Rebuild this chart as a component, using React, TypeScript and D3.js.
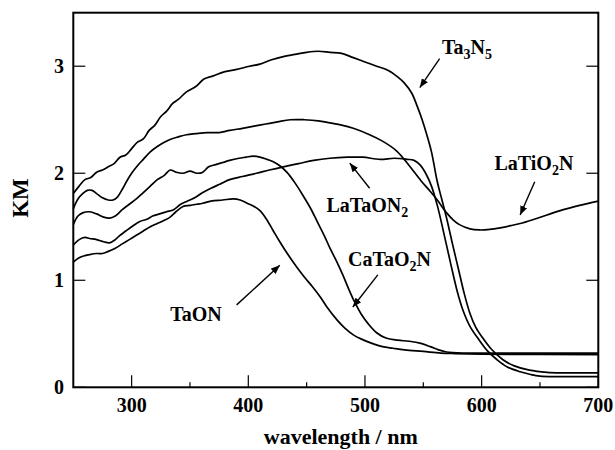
import React from 'react';
import * as d3 from 'd3';

// [wavelength nm, KM]
const ta3n5: [number, number][] = [
  [250, 1.81], [255, 1.88], [260, 1.94], [265, 1.96], [270, 2.01], [275, 2.03], [280, 2.06],
  [285, 2.09], [290, 2.15], [295, 2.17], [300, 2.23], [305, 2.29], [310, 2.32], [315, 2.4],
  [320, 2.45], [325, 2.53], [330, 2.58], [335, 2.65], [340, 2.69], [347, 2.76], [355, 2.81],
  [362, 2.88], [370, 2.91], [380, 2.95], [390, 2.97], [401, 3.0], [410, 3.02], [420, 3.06],
  [430, 3.09], [440, 3.11], [450, 3.13], [460, 3.14], [470, 3.13], [480, 3.12], [490, 3.08],
  [500, 3.04], [510, 3.0], [520, 2.96], [528, 2.9], [534, 2.84], [540, 2.75], [545, 2.62],
  [549, 2.5], [553, 2.36], [557, 2.2], [562, 1.92], [566, 1.75], [570, 1.58], [575, 1.34],
  [580, 1.11], [585, 0.88], [590, 0.69], [595, 0.56], [601, 0.46], [608, 0.36], [618, 0.26],
  [628, 0.2], [641, 0.16], [656, 0.14], [670, 0.135], [700, 0.135],
];

const laTiO2N: [number, number][] = [
  [250, 1.67], [254, 1.76], [258, 1.81], [262, 1.84], [266, 1.84], [270, 1.81], [275, 1.77],
  [280, 1.75], [284, 1.75], [288, 1.78], [292, 1.85], [296, 1.93], [300, 2.0], [305, 2.07],
  [310, 2.13], [316, 2.2], [322, 2.25], [328, 2.29], [334, 2.32], [340, 2.34], [347, 2.36],
  [355, 2.37], [365, 2.38], [375, 2.38], [384, 2.4], [395, 2.42], [405, 2.44], [415, 2.46],
  [425, 2.48], [436, 2.5], [448, 2.5], [460, 2.49], [470, 2.47], [480, 2.45], [490, 2.42],
  [504, 2.36], [515, 2.3], [527, 2.21], [538, 2.07], [548, 1.93], [556, 1.83], [562, 1.75],
  [570, 1.63], [576, 1.56], [581, 1.52], [590, 1.48], [598, 1.47], [607, 1.475], [616, 1.49],
  [625, 1.51], [633, 1.53], [645, 1.57], [656, 1.61], [670, 1.66], [684, 1.7], [700, 1.74],
];

const laTaON2: [number, number][] = [
  [250, 1.33], [255, 1.38], [260, 1.4], [264, 1.39], [270, 1.38], [276, 1.36], [281, 1.35],
  [286, 1.38], [290, 1.42], [295, 1.46], [300, 1.5], [307, 1.55], [313, 1.57], [318, 1.6],
  [324, 1.62], [330, 1.64], [336, 1.66], [342, 1.71], [348, 1.74], [354, 1.77], [361, 1.82],
  [368, 1.86], [376, 1.9], [384, 1.94], [395, 1.97], [407, 2.0], [418, 2.03], [430, 2.06],
  [443, 2.09], [456, 2.12], [470, 2.14], [485, 2.15], [498, 2.15], [513, 2.13], [525, 2.14],
  [536, 2.13], [542, 2.12], [547, 2.08], [552, 2.0], [557, 1.88], [562, 1.7], [568, 1.42],
  [574, 1.13], [579, 0.9], [584, 0.72], [590, 0.57], [598, 0.44], [605, 0.34], [613, 0.26],
  [622, 0.19], [633, 0.145], [642, 0.12], [650, 0.105], [665, 0.1], [700, 0.1],
];

const caTaO2N: [number, number][] = [
  [250, 1.52], [254, 1.6], [258, 1.63], [264, 1.64], [270, 1.62], [276, 1.59], [281, 1.58],
  [286, 1.6], [292, 1.66], [298, 1.71], [304, 1.76], [310, 1.82], [316, 1.88], [322, 1.94],
  [328, 1.98], [333, 2.03], [338, 2.01], [344, 2.0], [350, 2.02], [356, 2.0], [361, 2.01],
  [366, 2.06], [372, 2.08], [378, 2.1], [384, 2.12], [392, 2.14], [398, 2.15], [404, 2.16],
  [410, 2.15], [416, 2.13], [421, 2.11], [427, 2.07], [433, 2.01], [440, 1.91], [447, 1.79],
  [453, 1.68], [459, 1.55], [465, 1.42], [470, 1.3], [476, 1.17], [481, 1.05], [486, 0.92],
  [491, 0.8], [497, 0.68], [503, 0.59], [510, 0.51], [518, 0.46], [528, 0.44], [538, 0.43],
  [548, 0.41], [556, 0.38], [563, 0.35], [570, 0.33], [585, 0.32], [600, 0.32], [700, 0.32],
];

const taON: [number, number][] = [
  [250, 1.17], [255, 1.21], [260, 1.23], [264, 1.24], [270, 1.25], [275, 1.25], [280, 1.27],
  [286, 1.3], [292, 1.34], [298, 1.38], [304, 1.42], [310, 1.46], [316, 1.5], [322, 1.53],
  [328, 1.56], [333, 1.59], [338, 1.64], [344, 1.69], [350, 1.7], [356, 1.71], [361, 1.72],
  [368, 1.74], [378, 1.75], [387, 1.76], [393, 1.75], [399, 1.72], [405, 1.69], [410, 1.65],
  [415, 1.58], [421, 1.47], [427, 1.36], [434, 1.24], [441, 1.13], [448, 1.03], [455, 0.94],
  [462, 0.84], [468, 0.74], [476, 0.63], [483, 0.55], [490, 0.49], [497, 0.45], [506, 0.41],
  [515, 0.38], [524, 0.365], [534, 0.35], [550, 0.335], [565, 0.32], [577, 0.315],
  [600, 0.31], [700, 0.305],
];

const series = [ta3n5, laTiO2N, laTaON2, caTaO2N, taON];

const xTicks = [300, 400, 500, 600, 700];
const xMinorTicks = [350, 450, 550, 650];
const yTicks = [0, 1, 2, 3];

// label: [name, subscripted parts], text anchor (λ, KM), arrow from -> to (λ, KM)
type Part = { t: string; sub?: boolean };
const labels: { parts: Part[]; at: [number, number]; from: [number, number]; to: [number, number] }[] = [
  { parts: [{ t: 'Ta' }, { t: '3', sub: true }, { t: 'N' }, { t: '5', sub: true }], at: [566, 3.11], from: [564, 3.07], to: [547, 2.8] },
  { parts: [{ t: 'LaTiO' }, { t: '2', sub: true }, { t: 'N' }], at: [611, 2.03], from: [645.5, 1.92], to: [633, 1.61] },
  { parts: [{ t: 'LaTaON' }, { t: '2', sub: true }], at: [467, 1.64], from: [504, 1.86], to: [487, 2.095] },
  { parts: [{ t: 'CaTaO' }, { t: '2', sub: true }, { t: 'N' }], at: [485.5, 1.13], from: [511, 1.05], to: [489.6, 0.75] },
  { parts: [{ t: 'TaON' }], at: [333, 0.62], from: [390, 0.77], to: [427, 1.14] },
];

const W = 615;
const H = 450;
const m = { left: 73.3, right: 598.3, top: 12.7, bottom: 387.3 };
const font = '"Liberation Serif", "Times New Roman", serif';

export default function App() {
  const x = d3.scaleLinear().domain([250, 700]).range([m.left, m.right]);
  const y = d3.scaleLinear().domain([0, 3.5]).range([m.bottom, m.top]);
  const line = d3
    .line<[number, number]>()
    .x((d) => x(d[0]))
    .y((d) => y(d[1]))
    .curve(d3.curveCatmullRom.alpha(0.5));

  return (
    <svg
      width={W}
      height={H}
      style={{ position: 'absolute', left: 0, top: 0, background: '#fff' }}
      fontFamily={font}
      fontWeight="bold"
    >
      <defs>
        <marker id="ah" viewBox="0 0 10 10" refX="10" refY="5" markerWidth="9" markerHeight="9" markerUnits="userSpaceOnUse" orient="auto">
          <path d="M0,1 L10,5 L0,9 Z" fill="#000" />
        </marker>
      </defs>

      {series.map((s, i) => (
        <path key={i} d={line(s) ?? ''} fill="none" stroke="#000" strokeWidth={1.7} />
      ))}

      <rect x={m.left} y={m.top} width={m.right - m.left} height={m.bottom - m.top} fill="none" stroke="#000" strokeWidth={2} />

      {xTicks.map((t) => (
        <g key={t}>
          <line x1={x(t)} x2={x(t)} y1={m.bottom} y2={m.bottom - 12} stroke="#000" strokeWidth={1.2} />
          <text x={x(t)} y={411.5} fontSize={20} textAnchor="middle">{t}</text>
        </g>
      ))}
      {xMinorTicks.map((t) => (
        <line key={t} x1={x(t)} x2={x(t)} y1={m.bottom} y2={m.bottom - 5} stroke="#000" strokeWidth={1.2} />
      ))}
      {yTicks.map((t) => (
        <g key={t}>
          <line x1={m.left} x2={m.left + 12} y1={y(t)} y2={y(t)} stroke="#000" strokeWidth={1.2} />
          <line x1={m.right} x2={m.right - 12} y1={y(t)} y2={y(t)} stroke="#000" strokeWidth={1.2} />
          <text x={64} y={y(t)} dy="0.35em" fontSize={20} textAnchor="end">{t}</text>
        </g>
      ))}

      <text transform="translate(28,198) rotate(-90)" fontSize={23} textAnchor="middle">KM</text>
      <text x={(m.left + m.right) / 2 + 5} y={444} fontSize={22} textAnchor="middle">wavelength / nm</text>

      {labels.map((l, i) => (
        <g key={i}>
          <line x1={x(l.from[0])} y1={y(l.from[1])} x2={x(l.to[0])} y2={y(l.to[1])} stroke="#000" strokeWidth={1.4} markerEnd="url(#ah)" />
          <text x={x(l.at[0])} y={y(l.at[1])} fontSize={20}>
            {l.parts.map((p, j) =>
              p.sub ? (
                <tspan key={j} fontSize={14} dy={5}>{p.t}</tspan>
              ) : (
                <tspan key={j} dy={j > 0 && l.parts[j - 1].sub ? -5 : 0}>{p.t}</tspan>
              )
            )}
          </text>
        </g>
      ))}
    </svg>
  );
}
